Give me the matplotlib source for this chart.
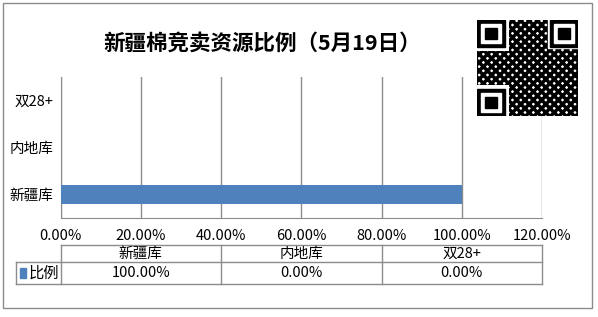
import matplotlib.pyplot as plt
import matplotlib.transforms as mtransforms
from matplotlib.patches import Rectangle

plt.rcParams['font.family'] = ['Noto Sans CJK SC', 'DejaVu Sans']
plt.rcParams['hatch.linewidth'] = 2.5

# 数据
categories = ['新疆库', '内地库', '双28+']
values = [100.0, 0.0, 0.0]          # 比例 [%]
series_name = '比例'
title = '新疆棉竞卖资源比例（5月19日）'
xticks = [0, 20, 40, 60, 80, 100, 120]

bar_color = '#4F81BD'
line_color = '#8C8C8C'

W, H = 598, 317
fig = plt.figure(figsize=(W / 100, H / 100), dpi=100)

# ramka wokół całego wykresu
fig.patches.append(Rectangle((3 / W, 1 - 308 / H), 589 / W, 305 / H,
                             transform=fig.transFigure, fill=False,
                             edgecolor=line_color, lw=1.0))

# obszar wykresu (w pikselach: x 60.5-542, y 77-218)
x0, x1, y0, y1 = 60.5, 542, 77, 218
ax = fig.add_axes([x0 / W, 1 - y1 / H, (x1 - x0) / W, (y1 - y0) / H])

ypos = list(range(len(categories)))
ax.barh(ypos, values, height=0.4, color=bar_color, zorder=3)
ax.set_xlim(xticks[0], xticks[-1])
ax.set_ylim(-0.5, len(categories) - 0.5)
ax.set_xticks(xticks)
ax.set_xticklabels([])
ax.tick_params(axis='x', length=0)
ax.set_yticks(ypos)
ax.set_yticklabels(categories, fontsize=10.5)
ax.tick_params(axis='y', length=0, pad=5)
ax.xaxis.grid(True, color=line_color, lw=1.0, zorder=0)
for s in ['top', 'right']:
    ax.spines[s].set_visible(False)
for s in ['left', 'bottom']:
    ax.spines[s].set_color(line_color)

# etykiety osi x i tabela danych pod wykresem
tr = mtransforms.blended_transform_factory(ax.transData, ax.transAxes)
ph = y1 - y0


def ay(py):
    return (y1 - py) / ph


for t in xticks:
    ax.text(t, ay(236), f'{t:.2f}%', transform=tr, ha='center', va='center',
            fontsize=10.5, clip_on=False)

n = len(categories)
col_w = (xticks[-1] - xticks[0]) / n
left_x = (15.7 - x0) / ((x1 - x0) / (xticks[-1] - xticks[0]))
r0, r1, r2 = ay(245), ay(262), ay(284)
kw = dict(transform=tr, color=line_color, lw=1.0, clip_on=False)

ax.plot([0, xticks[-1]], [r0, r0], **kw)
ax.plot([left_x, xticks[-1]], [r1, r1], **kw)
ax.plot([left_x, xticks[-1]], [r2, r2], **kw)
ax.plot([left_x, left_x], [r1, r2], **kw)
for i in range(n + 1):
    ax.plot([i * col_w, i * col_w], [r0, r2], **kw)

for i, (c, v) in enumerate(zip(categories, values)):
    xc = (i + 0.5) * col_w
    ax.text(xc, (r0 + r1) / 2, c, transform=tr, ha='center', va='center',
            fontsize=10.5, clip_on=False)
    ax.text(xc, (r1 + r2) / 2, f'{v:.2f}%', transform=tr, ha='center',
            va='center', fontsize=10.5, clip_on=False)

ax.add_patch(Rectangle((left_x + 1.0, (r1 + r2) / 2 - 0.035), 1.5, 0.07,
                       transform=tr, color=bar_color, clip_on=False))
ax.text(left_x + 3.2, (r1 + r2) / 2, series_name, transform=tr, ha='left',
        va='center', fontsize=11, clip_on=False)

# tytuł
fig.text(262 / W, 1 - 43 / H, title, ha='center', va='center',
         fontsize=15.5, fontweight='bold')

# kod QR (tylko przybliżenie wyglądu)
qx, qy, qw, qh = 477, 20, 101, 96
qr = fig.add_axes([qx / W, 1 - (qy + qh) / H, qw / W, qh / H])
qr.set_xlim(0, 25)
qr.set_ylim(0, 25)
qr.axis('off')
for rx, ry, rw, rh in [(8, 0, 17, 25), (0, 8, 8, 9)]:
    qr.add_patch(Rectangle((rx, ry), rw, rh, facecolor='white',
                           edgecolor='black', hatch='xxxx', lw=0))
for fx, fy in [(0, 18), (18, 18), (0, 0)]:
    qr.add_patch(Rectangle((fx - 0.4, fy - 0.4), 7.8, 7.8, color='white'))
    qr.add_patch(Rectangle((fx, fy), 7, 7, color='black'))
    qr.add_patch(Rectangle((fx + 1, fy + 1), 5, 5, color='white'))
    qr.add_patch(Rectangle((fx + 2, fy + 2), 3, 3, color='black'))

fig.savefig('out.png', dpi=100)
